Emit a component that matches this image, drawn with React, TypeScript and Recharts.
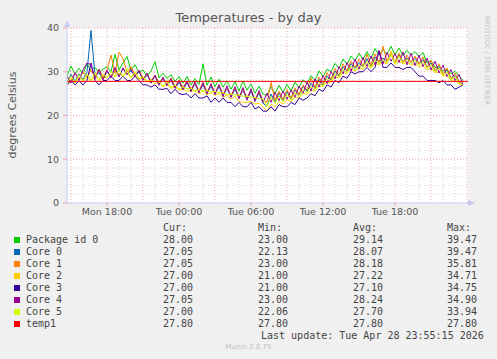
import React from "react";
import { LineChart, Line, XAxis, YAxis, ReferenceLine, ReferenceArea } from "recharts";

// sampling: every 20 minutes, starting Mon 14:40 (hours since Mon 00:00)
const START_H = 14 + 40 / 60;
const STEP_H = 1 / 3;

const PACKAGE_ID_0 = [
  29.0, 31.3, 29.4, 30.8, 29.5, 31.9, 30.2, 31.0, 29.8, 30.6,
  31.2, 30.0, 34.0, 30.4, 32.0, 33.5, 30.3, 31.6, 29.8, 30.4,
  29.0, 30.2, 32.3, 28.6, 29.7, 28.5, 29.3, 27.8, 28.9, 27.4,
  28.9, 27.0, 28.4, 27.1, 31.8, 26.9, 28.8, 26.6, 28.3, 26.5,
  27.9, 26.0, 27.8, 25.6, 27.9, 25.8, 27.2, 25.1, 26.7, 24.9,
  24.6, 26.6, 25.0, 26.9, 25.3, 27.1, 25.7, 27.6, 26.4, 28.2,
  27.2, 29.1, 28.0, 30.2, 28.9, 30.6, 30.0, 31.9, 30.8, 32.9,
  31.7, 33.6, 32.5, 34.2, 32.8, 34.6, 33.0, 35.3, 33.8, 35.0,
  34.1, 35.8, 33.9, 35.4, 33.7, 34.9, 33.8, 34.6, 33.5, 34.4,
  32.0, 32.6, 31.0, 30.8, 30.2, 30.6, 29.5, 30.1, 29.0, 28.0,
];
const CORE_0 = [
  27.6, 29.4, 27.9, 29.5, 28.2, 30.0, 39.47, 29.0, 29.8, 28.3,
  30.1, 28.8, 30.9, 29.0, 30.7, 29.5, 30.2, 29.0, 30.0, 28.2,
  29.3, 27.6, 29.0, 27.1, 28.4, 27.0, 28.0, 26.3, 27.6, 25.9,
  27.5, 25.8, 27.2, 25.3, 27.0, 25.1, 26.7, 24.9, 26.6, 24.6,
  26.2, 24.3, 26.0, 24.0, 25.8, 23.7, 25.5, 23.4, 25.1, 22.8,
  22.13, 24.9, 23.1, 25.2, 23.4, 25.5, 23.8, 25.9, 24.6, 26.7,
  25.5, 27.4, 26.2, 28.3, 27.0, 29.1, 28.1, 30.2, 29.0, 31.2,
  30.1, 31.9, 30.7, 32.1, 31.2, 33.0, 31.3, 33.4, 32.2, 33.1,
  32.4, 34.1, 32.0, 33.9, 32.3, 33.2, 32.2, 33.1, 31.8, 32.8,
  31.0, 32.1, 30.2, 31.3, 29.5, 30.4, 28.5, 29.2, 27.7, 27.05,
];
const CORE_1 = [
  28.9, 28.0, 29.7, 28.3, 30.0, 28.7, 30.4, 28.8, 30.6, 28.7,
  30.5, 33.8, 29.6, 34.5, 33.0, 29.9, 31.2, 29.3, 30.3, 28.6,
  29.4, 28.0, 29.2, 27.6, 28.5, 27.3, 28.6, 26.7, 28.0, 26.4,
  27.9, 26.1, 27.4, 25.7, 27.6, 25.5, 27.0, 25.2, 26.9, 25.0,
  26.4, 24.6, 26.3, 24.3, 26.0, 24.1, 25.8, 23.8, 25.3, 23.5,
  23.0, 27.6, 23.4, 25.6, 23.7, 25.9, 24.0, 26.3, 24.8, 27.0,
  25.8, 28.6, 26.4, 28.8, 27.2, 29.8, 28.3, 30.7, 29.2, 31.8,
  30.2, 32.5, 31.0, 32.9, 31.4, 34.0, 31.5, 34.1, 32.1, 35.81,
  32.3, 34.6, 32.1, 34.3, 32.0, 33.8, 32.1, 33.6, 31.7, 33.4,
  31.0, 32.6, 30.2, 31.8, 29.4, 30.9, 28.4, 29.7, 27.9, 27.05,
];
const CORE_2 = [
  27.0, 28.4, 27.4, 28.6, 27.8, 28.8, 27.9, 29.0, 28.0, 28.8,
  28.6, 29.4, 28.8, 29.6, 29.0, 29.8, 28.6, 29.4, 28.3, 28.6,
  27.6, 28.0, 27.2, 27.6, 26.6, 27.2, 26.2, 26.6, 25.8, 26.0,
  25.6, 25.6, 25.6, 25.0, 25.6, 24.8, 25.2, 24.6, 25.0, 24.2,
  24.6, 23.8, 24.4, 23.2, 23.0, 23.0, 23.2, 22.6, 22.8, 22.0,
  21.0, 22.6, 22.0, 23.2, 22.6, 23.6, 23.2, 24.2, 24.0, 25.0,
  24.8, 25.8, 25.6, 26.8, 26.6, 27.6, 27.6, 28.8, 28.6, 29.8,
  29.6, 30.6, 30.2, 30.8, 30.6, 31.6, 30.8, 32.0, 31.6, 32.2,
  31.8, 34.71, 31.6, 32.6, 31.8, 32.2, 31.6, 31.8, 31.2, 31.4,
  30.4, 30.8, 29.8, 30.0, 29.0, 29.2, 28.0, 28.2, 27.2, 27.0,
];
const CORE_3 = [
  27.0, 28.0, 27.0, 27.9, 27.0, 28.0, 32.0, 28.0, 27.0, 28.0,
  28.0, 29.0, 28.0, 28.0, 29.0, 28.0, 28.0, 29.0, 28.0, 27.0,
  27.0, 26.5, 27.0, 26.0, 26.0, 26.2, 25.0, 26.0, 25.0, 24.8,
  25.0, 24.0, 25.0, 24.0, 24.0, 24.5, 23.0, 24.0, 23.0, 24.0,
  23.0, 23.0, 22.0, 23.0, 22.0, 22.0, 23.0, 21.5, 22.0, 21.0,
  21.0, 22.0, 21.0, 22.5, 22.0, 22.0, 23.0, 22.5, 24.0, 23.5,
  24.0, 25.0, 24.5, 26.0, 25.5, 27.0, 26.5, 28.0, 27.5, 29.0,
  28.5, 30.0, 29.5, 30.0, 30.0, 31.0, 30.0, 31.0, 34.75, 31.0,
  31.0, 32.0, 31.0, 31.0, 30.5, 31.0, 31.0, 30.0, 29.0, 29.0,
  28.0, 28.0, 28.0, 27.5, 28.0, 27.0, 27.0, 26.0, 26.5, 27.0,
];
const CORE_4 = [
  28.9, 27.4, 29.8, 28.0, 30.4, 32.0, 31.6, 28.3, 30.5, 28.1,
  30.4, 28.6, 31.0, 28.8, 30.9, 29.3, 30.6, 28.9, 30.3, 28.0,
  29.7, 27.4, 29.2, 26.9, 28.8, 26.8, 28.4, 26.2, 28.0, 25.9,
  27.9, 25.4, 27.8, 25.2, 27.5, 24.9, 27.3, 24.8, 27.1, 24.3,
  26.8, 24.1, 26.6, 23.8, 26.4, 23.5, 26.1, 23.2, 25.7, 23.0,
  25.1, 23.0, 25.3, 23.4, 25.6, 23.7, 25.8, 24.2, 26.7, 25.1,
  27.6, 25.6, 28.4, 26.5, 29.1, 27.3, 30.1, 28.4, 31.2, 29.5,
  32.1, 30.1, 32.9, 30.6, 33.3, 31.2, 33.6, 31.6, 34.9, 31.8,
  34.4, 32.4, 34.1, 32.1, 34.5, 31.6, 34.2, 31.4, 33.8, 31.2,
  33.1, 30.4, 32.4, 29.7, 31.5, 28.9, 30.5, 28.0, 29.4, 27.05,
];
const CORE_5 = [
  27.4, 28.9, 27.7, 29.3, 28.0, 29.5, 28.1, 29.8, 28.3, 29.5,
  28.6, 30.1, 29.0, 30.4, 28.9, 30.7, 28.6, 30.0, 28.5, 28.9,
  27.8, 28.1, 27.7, 27.8, 26.7, 28.0, 26.4, 27.0, 26.0, 26.5,
  26.1, 26.2, 25.7, 25.9, 25.6, 25.7, 25.4, 25.5, 25.2, 25.2,
  24.8, 24.9, 24.7, 24.7, 24.4, 24.4, 24.2, 24.1, 23.8, 23.8,
  22.06, 24.3, 22.8, 24.5, 23.1, 24.9, 23.5, 25.3, 24.3, 25.9,
  25.2, 26.7, 25.9, 27.6, 26.7, 28.5, 27.8, 29.6, 28.8, 30.6,
  29.7, 31.3, 30.5, 31.5, 31.0, 32.4, 31.0, 32.8, 31.8, 32.8,
  32.1, 33.94, 31.9, 33.5, 31.9, 32.9, 31.9, 32.6, 31.5, 32.3,
  30.8, 31.6, 30.0, 30.9, 29.2, 30.0, 28.2, 29.0, 27.3, 27.0,
];
const TEMP1 = 27.8;

const X_TICKS = [18, 24, 30, 36, 42];
const X_TICK_LABELS = ["Mon 18:00", "Tue 00:00", "Tue 06:00", "Tue 12:00", "Tue 18:00"];
const Y_TICKS = [0, 10, 20, 30, 40];
const X_MAJOR = [15, 18, 21, 24, 27, 30, 33, 36, 39, 42, 45, 48];
const X_MINOR = [
  16, 17, 19, 20, 22, 23, 25, 26, 28, 29, 31, 32, 34, 35, 37, 38, 40, 41, 43, 44, 46, 47,
];
const Y_MINOR = [2, 4, 6, 8, 12, 14, 16, 18, 22, 24, 26, 28, 32, 34, 36, 38];

const SERIES = [
  { key: "pkg", name: "Package id 0", color: "#00cc00", values: PACKAGE_ID_0 },
  { key: "c0", name: "Core 0", color: "#0066b3", values: CORE_0 },
  { key: "c1", name: "Core 1", color: "#ff8000", values: CORE_1 },
  { key: "c2", name: "Core 2", color: "#ffcc00", values: CORE_2 },
  { key: "c3", name: "Core 3", color: "#330099", values: CORE_3 },
  { key: "c4", name: "Core 4", color: "#990099", values: CORE_4 },
  { key: "c5", name: "Core 5", color: "#ccff00", values: CORE_5 },
];

// legend table: cur, min, avg, max
const LEGEND_ROWS = [
  { name: "Package id 0", color: "#00cc00", stats: ["28.00", "23.00", "29.14", "39.47"] },
  { name: "Core 0", color: "#0066b3", stats: ["27.05", "22.13", "28.07", "39.47"] },
  { name: "Core 1", color: "#ff8000", stats: ["27.05", "23.00", "28.18", "35.81"] },
  { name: "Core 2", color: "#ffcc00", stats: ["27.00", "21.00", "27.22", "34.71"] },
  { name: "Core 3", color: "#330099", stats: ["27.00", "21.00", "27.10", "34.75"] },
  { name: "Core 4", color: "#990099", stats: ["27.05", "23.00", "28.24", "34.90"] },
  { name: "Core 5", color: "#ccff00", stats: ["27.00", "22.06", "27.70", "33.94"] },
  { name: "temp1", color: "#ff0000", stats: ["27.80", "27.80", "27.80", "27.80"] },
];
const STAT_HEADERS = ["Cur:", "Min:", "Avg:", "Max:"];
const STAT_X = [163, 258, 353, 447];

const data = PACKAGE_ID_0.map((_, i) => {
  const row: Record<string, number> = { t: START_H + i * STEP_H };
  SERIES.forEach(s => { row[s.key] = s.values[i]; });
  return row;
});

const TEXT = "#555";
const AXIS = "#c8c8f4";
const MINOR = "#d6d6d6";
const MAJOR = "#eeaaaa";
const MONO = "'DejaVu Sans Mono', monospace";
const SANS = "'DejaVu Sans', sans-serif";

export default function App() {
  return (
    <div style={{ position: "fixed", left: 0, top: 0, width: 497, height: 359, background: "#f0f0f0", overflow: "hidden", fontFamily: SANS }}>
      <div style={{ position: "absolute", left: 0, width: 497, top: 10, textAlign: "center", fontSize: 13, color: TEXT }}>
        Temperatures - by day
      </div>
      <div style={{ position: "absolute", left: 12, top: 115, transform: "translate(-50%, -50%) rotate(-90deg)", whiteSpace: "nowrap", fontSize: 11, color: TEXT }}>
        degrees Celsius
      </div>
      <div style={{ position: "absolute", left: 487, top: 60, transform: "translate(-50%, -50%) rotate(90deg)", whiteSpace: "nowrap", fontSize: 7, color: "#c4c4c4" }}>
        RRDTOOL / TOBI OETIKER
      </div>

      <div style={{ position: "absolute", left: 0, top: 0 }}>
        <LineChart width={497} height={225} data={data} margin={{ top: 28, right: 29, bottom: 0, left: 27 }}>
          <XAxis
            dataKey="t" type="number" domain={[START_H, 48.08]} ticks={X_TICKS}
            tickFormatter={(v: number) => X_TICK_LABELS[X_TICKS.indexOf(v)]}
            height={22} tickSize={3} tickMargin={2}
            tick={{ fontSize: 9.5, fill: TEXT, fontFamily: SANS }}
            axisLine={{ stroke: AXIS }} tickLine={{ stroke: MAJOR }}
            allowDataOverflow
          />
          <YAxis
            type="number" domain={[0, 40]} ticks={Y_TICKS} width={40}
            tickSize={4} tickMargin={4}
            tick={{ fontSize: 9.5, fill: TEXT, fontFamily: SANS }}
            axisLine={{ stroke: AXIS }} tickLine={{ stroke: MAJOR }}
          />
          <ReferenceArea x1={START_H} x2={48.08} y1={0} y2={40} fill="#ffffff" fillOpacity={1} stroke="none" />
          {X_MINOR.map(h => (
            <ReferenceLine key={"xm" + h} x={h} stroke={MINOR} strokeDasharray="1 2" />
          ))}
          {Y_MINOR.map(v => (
            <ReferenceLine key={"ym" + v} y={v} stroke={MINOR} strokeDasharray="1 2" />
          ))}
          {X_MAJOR.map(h => (
            <ReferenceLine key={"xM" + h} x={h} stroke={MAJOR} strokeDasharray="1 2" />
          ))}
          {Y_TICKS.slice(1).map(v => (
            <ReferenceLine key={"yM" + v} y={v} stroke={MAJOR} strokeDasharray="1 2" />
          ))}
          {SERIES.map(s => (
            <Line key={s.key} dataKey={s.key} type="linear" stroke={s.color} strokeWidth={1} dot={false} isAnimationActive={false} />
          ))}
          <ReferenceLine y={TEMP1} stroke="#ff0000" strokeWidth={1} />
        </LineChart>
      </div>

      <svg width={497} height={359} style={{ position: "absolute", left: 0, top: 0, pointerEvents: "none" }}>
        <polygon points="64,27 70,27 67,20" fill={AXIS} />
        <polygon points="468,200 468,206 475,203" fill={AXIS} />
      </svg>

      <div style={{ position: "absolute", left: 0, top: 0, fontFamily: MONO, fontSize: 10, color: "#444", lineHeight: "12px" }}>
        {STAT_HEADERS.map((h, j) => (
          <div key={h} style={{ position: "absolute", left: STAT_X[j], top: 222, whiteSpace: "pre" }}>{h}</div>
        ))}
        {LEGEND_ROWS.map((r, i) => (
          <React.Fragment key={r.name}>
            <div style={{ position: "absolute", left: 14, top: 237 + i * 12, width: 6, height: 6, background: r.color }} />
            <div style={{ position: "absolute", left: 26, top: 234 + i * 12, whiteSpace: "pre" }}>{r.name}</div>
            {r.stats.map((v, j) => (
              <div key={j} style={{ position: "absolute", left: STAT_X[j], top: 234 + i * 12, whiteSpace: "pre" }}>{v}</div>
            ))}
          </React.Fragment>
        ))}
        <div style={{ position: "absolute", left: 261, top: 330, whiteSpace: "pre" }}>Last update: Tue Apr 28 23:55:15 2026</div>
      </div>
      <div style={{ position: "absolute", left: 0, width: 497, top: 343, textAlign: "center", fontSize: 7, color: "#c0c0c0", fontFamily: SANS }}>
        Munin 2.0.75
      </div>
    </div>
  );
}
